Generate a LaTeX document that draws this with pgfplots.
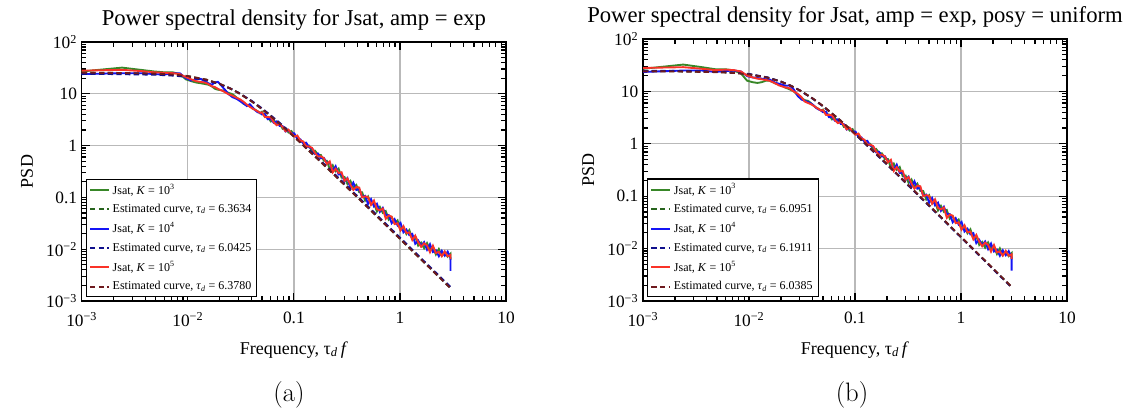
\documentclass[border=0pt]{standalone}
\usepackage{fontspec}
\setmainfont{Liberation Serif}
\usepackage{pgfplots}
\pgfplotsset{compat=1.18}
\usepackage{pgfplotstable}

\definecolor{cg}{RGB}{56,135,40}
\definecolor{cgd}{RGB}{40,100,30}
\definecolor{cb}{RGB}{20,20,245}
\definecolor{cbd}{RGB}{15,15,140}
\definecolor{cr}{RGB}{250,50,40}
\definecolor{crd}{RGB}{110,25,30}
\definecolor{gridc}{RGB}{185,185,185}

\pgfplotstableread{
f g b r
0.001 27 24 28
0.0024 32 25 29
0.0036 29 25 27.5
0.0048 27 24 26
0.006 26 23.5 25.5
0.0072 26 25 25
0.0084 24 25 24
0.0096 19 20 21
0.0108 17.5 18 19
0.012 16.5 19 17.5
0.0132 16 19.5 17
0.0144 15.5 17.5 16.5
0.0156 15 16 15.5
0.0168 14 15 14
0.018 12.5 16.5 13.5
0.0192 12 17 12.5
0.0204 11.8 15 11.8
0.0216 11.5 13 11.2
0.0228 11 11.5 10.5
0.024 10.5 10 9.9
0.0264 9.8 8.6 9.2
0.0288 8.5 8.0 8.4
0.0312 7.4 7.2 7.8
0.0336 6.4 6.5 7.0
0.036 6.0 5.8 6.2
0.0384 5.9 6.3 5.6
0.0408 5.2 5.5 5.2
0.0432 4.9 4.8 4.9
0.0456 4.6 4.4 4.6
0.048 4.2 4.3 4.3
0.0500 4.50 4.00 4.38
0.0533 3.63 4.09 3.55
0.0568 3.61 3.22 3.57
0.0606 2.92 3.27 3.50
0.0646 3.12 2.76 2.82
0.0689 2.65 2.94 2.48
0.0734 2.72 2.40 2.62
0.0783 2.11 2.38 2.29
0.0835 2.16 1.87 1.89
0.0890 1.79 1.98 2.03
0.0948 1.91 1.72 1.70
0.1011 1.54 1.72 1.49
0.1078 1.50 1.33 1.57
0.1149 1.19 1.33 1.26
0.1225 1.18 1.10 1.20
0.1306 1.00 1.14 0.967
0.1392 0.999 0.925 0.962
0.1484 0.755 0.889 0.906
0.1582 0.799 0.686 0.716
0.1687 0.670 0.704 0.616
0.1798 0.657 0.572 0.620
0.1917 0.509 0.579 0.573
0.2044 0.510 0.462 0.443
0.2179 0.351 0.471 0.496
0.2323 0.418 0.319 0.304
0.2476 0.319 0.400 0.359
0.2640 0.361 0.277 0.295
0.2815 0.241 0.284 0.306
0.3001 0.248 0.205 0.209
0.3199 0.181 0.236 0.232
0.3410 0.209 0.150 0.176
0.3636 0.153 0.193 0.139
0.3876 0.174 0.139 0.159
0.4132 0.126 0.144 0.155
0.4405 0.125 0.102 0.0999
0.4697 0.0866 0.107 0.105
0.5007 0.104 0.0751 0.101
0.5338 0.0732 0.0927 0.0715
0.5691 0.0770 0.0668 0.0871
0.6067 0.0534 0.0755 0.0599
0.6468 0.0654 0.0526 0.0561
0.6896 0.0503 0.0629 0.0608
0.7351 0.0546 0.0452 0.0386
0.7837 0.0371 0.0456 0.0447
0.8355 0.0417 0.0318 0.0424
0.8908 0.0320 0.0381 0.0306
0.9496 0.0360 0.0287 0.0317
1.0124 0.0236 0.0323 0.0230
1.0793 0.0265 0.0211 0.0279
1.1506 0.0196 0.0240 0.0205
1.2267 0.0234 0.0187 0.0211
1.3078 0.0160 0.0198 0.0150
1.3942 0.0174 0.0127 0.0183
1.4864 0.0117 0.0147 0.0136
1.5846 0.0134 0.0116 0.0111
1.6894 0.0104 0.0137 0.0130
1.8010 0.0131 0.00977 0.0118
1.9201 0.00998 0.0125 0.00874
2.0470 0.0108 0.00880 0.0117
2.1823 0.00789 0.00955 0.00845
2.3265 0.0101 0.00730 0.00886
2.4803 0.00749 0.00932 0.00732
2.6443 0.00860 0.00748 0.00907
2.8191 0.00716 0.00899 0.00732
3.0000 0.00819 0.00673 0.00775
3.0000 0.0062 0.0038 0.0064
}\dataA

\pgfplotstableread{
f g b r
0.001 27 23.5 28
0.0024 32.5 25 29
0.0036 29 25 27
0.0048 26.5 23.5 25.5
0.006 26.5 24.5 26
0.0072 25 25 25.5
0.0084 22 24 24
0.0096 16 19.5 20
0.0108 15 18.5 18.5
0.012 14.5 18 17.5
0.0132 15 17.5 17
0.0144 16 17 16.5
0.0156 16 17 16
0.0168 15 15.5 15
0.018 14 14.5 14
0.0192 13.5 14 13
0.0204 13 13.5 12.5
0.0216 12 13 12
0.0228 11.5 12.8 11.8
0.024 11 13 11.5
0.0264 10 11 10
0.0288 8.5 8.2 9
0.0312 7.5 7.0 7.8
0.0336 6.8 6.6 6.4
0.036 6.6 6.3 6.0
0.0384 6.0 5.9 5.7
0.0408 5.3 5.4 5.3
0.0432 4.9 4.8 4.9
0.0456 4.6 4.5 4.6
0.048 4.3 4.3 4.3
0.0500 4.50 4.00 4.38
0.0533 3.63 4.09 3.55
0.0568 3.61 3.22 3.57
0.0606 2.92 3.27 3.50
0.0646 3.12 2.76 2.82
0.0689 2.65 2.94 2.48
0.0734 2.72 2.40 2.62
0.0783 2.11 2.38 2.29
0.0835 2.16 1.87 1.89
0.0890 1.79 1.98 2.03
0.0948 1.91 1.72 1.70
0.1011 1.54 1.72 1.49
0.1078 1.50 1.33 1.57
0.1149 1.19 1.33 1.26
0.1225 1.18 1.10 1.20
0.1306 1.00 1.14 0.967
0.1392 0.999 0.925 0.962
0.1484 0.755 0.889 0.906
0.1582 0.799 0.686 0.716
0.1687 0.670 0.704 0.616
0.1798 0.657 0.572 0.620
0.1917 0.509 0.579 0.573
0.2044 0.510 0.462 0.443
0.2179 0.351 0.471 0.496
0.2323 0.418 0.319 0.304
0.2476 0.319 0.400 0.359
0.2640 0.361 0.277 0.295
0.2815 0.241 0.284 0.306
0.3001 0.248 0.205 0.209
0.3199 0.181 0.236 0.232
0.3410 0.209 0.150 0.176
0.3636 0.153 0.193 0.139
0.3876 0.174 0.139 0.159
0.4132 0.126 0.144 0.155
0.4405 0.125 0.102 0.0999
0.4697 0.0866 0.107 0.105
0.5007 0.104 0.0751 0.101
0.5338 0.0732 0.0927 0.0715
0.5691 0.0770 0.0668 0.0871
0.6067 0.0534 0.0755 0.0599
0.6468 0.0654 0.0526 0.0561
0.6896 0.0503 0.0629 0.0608
0.7351 0.0546 0.0452 0.0386
0.7837 0.0371 0.0456 0.0447
0.8355 0.0417 0.0318 0.0424
0.8908 0.0320 0.0381 0.0306
0.9496 0.0360 0.0287 0.0317
1.0124 0.0236 0.0323 0.0230
1.0793 0.0265 0.0211 0.0279
1.1506 0.0196 0.0240 0.0205
1.2267 0.0234 0.0187 0.0211
1.3078 0.0160 0.0198 0.0150
1.3942 0.0174 0.0127 0.0183
1.4864 0.0117 0.0147 0.0136
1.5846 0.0134 0.0116 0.0111
1.6894 0.0104 0.0137 0.0130
1.8010 0.0131 0.00977 0.0118
1.9201 0.00998 0.0125 0.00874
2.0470 0.0108 0.00880 0.0117
2.1823 0.00789 0.00955 0.00845
2.3265 0.0101 0.00730 0.00886
2.4803 0.00749 0.00932 0.00732
2.6443 0.00860 0.00748 0.00907
2.8191 0.00716 0.00899 0.00732
3.0000 0.00819 0.00673 0.00775
3.0000 0.0062 0.0038 0.0064
}\dataB

\pgfplotstableread{
f e1 e2 e3
0.001 25.414 24.135 25.471
0.002 25.292 24.031 25.349
0.005 24.476 23.329 24.527
0.0075 23.354 22.357 23.398
0.01 21.946 21.125 21.982
0.015 18.720 18.251 18.740
0.02 15.526 15.331 15.534
0.025 12.733 12.715 12.732
0.03 10.437 10.521 10.433
0.04 7.1546 7.3104 7.1473
0.05 5.0944 5.2503 5.0873
0.07 2.8817 2.9977 2.8765
0.1 1.4986 1.5680 1.4955
0.2 0.39195 0.41206 0.39107
0.5 0.063533 0.066888 0.063387
1 0.015913 0.016757 0.015876
2 0.0039802 0.0041913 0.0039709
3 0.0017691 0.0018630 0.0017650
}\estA

\pgfplotstableread{
f e1 e2 e3
0.001 24.344 24.727 24.119
0.002 24.238 24.615 24.016
0.005 23.518 23.861 23.315
0.0075 22.522 22.821 22.345
0.01 21.262 21.509 21.115
0.015 18.331 18.474 18.245
0.02 15.366 15.427 15.328
0.025 12.720 12.727 12.715
0.03 10.509 10.485 10.522
0.04 7.2849 7.2385 7.3122
0.05 5.2243 5.1775 5.2522
0.07 2.9780 2.9429 2.9991
0.1 1.5562 1.5351 1.5689
0.2 0.40861 0.40248 0.41232
0.5 0.066310 0.065288 0.066931
1 0.016612 0.016354 0.016768
2 0.0041550 0.0040906 0.0041941
3 0.0018469 0.0018182 0.0018642
}\estB

\begin{document}
\begin{tikzpicture}
\path[use as bounding box] (0,0) rectangle (843pt,307.5pt);

\begin{axis}[at={(61.3pt,81.75pt)}, anchor=south west,
  scale only axis, width=318.2pt, height=194.25pt,
  xmode=log, ymode=log,
  xmin=1e-3, xmax=10, ymin=1e-3, ymax=100,
  xtick={1e-3,1e-2,0.1,1,10},
  xticklabels={{10\textsuperscript{−3}},{10\textsuperscript{−2}},0.1,1,10},
  ytick={1e-3,1e-2,0.1,1,10,100},
  yticklabels={{10\textsuperscript{−3}},{10\textsuperscript{−2}},0.1,1,10,{10\textsuperscript{2}}},
  tick align=inside,
  major tick length=6pt, minor tick length=3.5pt,
  every tick/.append style={black, line width=0.9pt},
  axis line style={black, line width=1.1pt},
  grid=major,
  major grid style={gridc, line width=1pt},
  tick label style={font=\fontsize{13}{14}\selectfont},
  xticklabel style={yshift=-5pt},
  title style={at={(0.5,1)}, anchor=base, yshift=6pt, font=\fontsize{17}{19}\selectfont},
  xlabel style={at={(0.5,0)}, anchor=base, yshift=-39.75pt, font=\fontsize{13.5}{15}\selectfont},
  ylabel style={at={(-0.1289,0.5)}, anchor=center, font=\fontsize{13.5}{15}\selectfont},
  xlabel={Frequency, τ\textsubscript{\itshape d}\,\textit{f}},
  ylabel={PSD},
  legend cell align=left,
  legend image code/.code={\draw[#1, line width=1.4pt] (0cm,0cm) -- (0.5cm,0cm);},
  legend style={at={(0.0101,0.0154)}, anchor=south west,
    font=\fontsize{9}{10.5}\selectfont, draw=black, line width=0.8pt,
    fill=white, row sep=2pt, inner xsep=2pt, inner ysep=1.5pt},
  title={Power spectral density for Jsat, amp = exp}]
\addplot[cg, line width=1.4pt] table[x=f,y=g]{\dataA};
\addlegendentry{Jsat, \textit{K} = 10\textsuperscript{3}}
\addplot[cgd, line width=1.4pt, dash pattern=on 4pt off 2.5pt] table[x=f,y=e1]{\estA};
\addlegendentry{Estimated curve, \textit{τ}\textsubscript{\itshape d} = 6.3634}
\addplot[cb, line width=1.4pt] table[x=f,y=b]{\dataA};
\addlegendentry{Jsat, \textit{K} = 10\textsuperscript{4}}
\addplot[cbd, line width=1.4pt, dash pattern=on 4pt off 2.5pt] table[x=f,y=e2]{\estA};
\addlegendentry{Estimated curve, \textit{τ}\textsubscript{\itshape d} = 6.0425}
\addplot[cr, line width=1.4pt] table[x=f,y=r]{\dataA};
\addlegendentry{Jsat, \textit{K} = 10\textsuperscript{5}}
\addplot[crd, line width=1.4pt, dash pattern=on 4pt off 2.5pt] table[x=f,y=e3]{\estA};
\addlegendentry{Estimated curve, \textit{τ}\textsubscript{\itshape d} = 6.3780}
\end{axis}

\begin{axis}[at={(482.25pt,81.75pt)}, anchor=south west,
  scale only axis, width=318pt, height=196.5pt,
  xmode=log, ymode=log,
  xmin=1e-3, xmax=10, ymin=1e-3, ymax=100,
  xtick={1e-3,1e-2,0.1,1,10},
  xticklabels={{10\textsuperscript{−3}},{10\textsuperscript{−2}},0.1,1,10},
  ytick={1e-3,1e-2,0.1,1,10,100},
  yticklabels={{10\textsuperscript{−3}},{10\textsuperscript{−2}},0.1,1,10,{10\textsuperscript{2}}},
  tick align=inside,
  major tick length=6pt, minor tick length=3.5pt,
  every tick/.append style={black, line width=0.9pt},
  axis line style={black, line width=1.1pt},
  grid=major,
  major grid style={gridc, line width=1pt},
  tick label style={font=\fontsize{13}{14}\selectfont},
  xticklabel style={yshift=-5pt},
  title style={at={(0.5,1)}, anchor=base, yshift=6pt, font=\fontsize{17}{19}\selectfont},
  xlabel style={at={(0.5,0)}, anchor=base, yshift=-39.75pt, font=\fontsize{13.5}{15}\selectfont},
  ylabel style={at={(-0.1289,0.5)}, anchor=center, font=\fontsize{13.5}{15}\selectfont},
  xlabel={Frequency, τ\textsubscript{\itshape d}\,\textit{f}},
  ylabel={PSD},
  legend cell align=left,
  legend image code/.code={\draw[#1, line width=1.4pt] (0cm,0cm) -- (0.5cm,0cm);},
  legend style={at={(0.0101,0.0154)}, anchor=south west,
    font=\fontsize{9}{10.5}\selectfont, draw=black, line width=0.8pt,
    fill=white, row sep=2pt, inner xsep=2pt, inner ysep=1.5pt},
  title={Power spectral density for Jsat, amp = exp, posy = uniform}]
\addplot[cg, line width=1.4pt] table[x=f,y=g]{\dataB};
\addlegendentry{Jsat, \textit{K} = 10\textsuperscript{3}}
\addplot[cgd, line width=1.4pt, dash pattern=on 4pt off 2.5pt] table[x=f,y=e1]{\estB};
\addlegendentry{Estimated curve, \textit{τ}\textsubscript{\itshape d} = 6.0951}
\addplot[cb, line width=1.4pt] table[x=f,y=b]{\dataB};
\addlegendentry{Jsat, \textit{K} = 10\textsuperscript{4}}
\addplot[cbd, line width=1.4pt, dash pattern=on 4pt off 2.5pt] table[x=f,y=e2]{\estB};
\addlegendentry{Estimated curve, \textit{τ}\textsubscript{\itshape d} = 6.1911}
\addplot[cr, line width=1.4pt] table[x=f,y=r]{\dataB};
\addlegendentry{Jsat, \textit{K} = 10\textsuperscript{5}}
\addplot[crd, line width=1.4pt, dash pattern=on 4pt off 2.5pt] table[x=f,y=e3]{\estB};
\addlegendentry{Estimated curve, \textit{τ}\textsubscript{\itshape d} = 6.0385}
\end{axis}

\node[font=\fontfamily{lmr}\fontsize{20}{22}\selectfont] at (216.75pt,11.25pt) {(a)};
\node[font=\fontfamily{lmr}\fontsize{20}{22}\selectfont] at (639pt,11.25pt) {(b)};
\end{tikzpicture}
\end{document}
